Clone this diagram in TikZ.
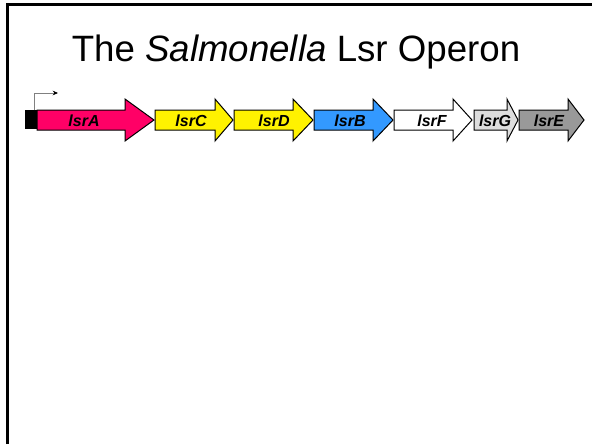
\documentclass[tikz,border=0pt]{standalone}
\usepackage{fontspec}
\setmainfont{Liberation Sans}
\usetikzlibrary{arrows.meta}
\definecolor{lsrAred}{HTML}{FF0066}
\definecolor{lsrBblue}{HTML}{3399FF}
\definecolor{lsrGgrey}{HTML}{DDDDDD}
\definecolor{lsrEgrey}{HTML}{999999}
\begin{document}
\begin{tikzpicture}[x=0.75pt, y=-0.75pt,
  gene/.style={draw=black, line width=0.75pt, line join=miter},
  genename/.style={font=\fontsize{12}{14}\selectfont\bfseries\itshape, inner sep=0pt, anchor=base}]
\useasboundingbox (0,0) rectangle (592,444);
% slide frame
\draw[line width=2pt] (7.5,444) -- (7.5,4.5) -- (592,4.5);
\node[font=\fontsize{27.5}{33}\selectfont, anchor=base] (title) at (296,61) {The \textit{Salmonella} Lsr Operon};
% promoter
\node[fill=black, inner sep=0pt, minimum width=9pt, minimum height=14.25pt, anchor=north west] (prom) at (25,110) {};
\coordinate (tss) at (34,110);
\coordinate (tssbend) at (34,93);
\coordinate (tssend) at (58,93);
\draw[gray, line width=0.75pt, -{Stealth[black, length=4pt, width=3.5pt]}] (tss) -- (tssbend) -- (tssend);
% genes
\draw[gene, fill=lsrAred] (37,110) -- (125,110) -- (125,99) -- (154,120) -- (125,141) -- (125,130) -- (37,130) -- cycle;
\draw[gene, fill=yellow] (155,110) -- (215,110) -- (215,99) -- (233,120) -- (215,141) -- (215,130) -- (155,130) -- cycle;
\draw[gene, fill=yellow] (234,110) -- (293,110) -- (293,99) -- (313,120) -- (293,141) -- (293,130) -- (234,130) -- cycle;
\draw[gene, fill=lsrBblue] (314,110) -- (373,110) -- (373,99) -- (393,120) -- (373,141) -- (373,130) -- (314,130) -- cycle;
\draw[gene, fill=white] (394,110) -- (453,110) -- (453,99) -- (472,120) -- (453,141) -- (453,130) -- (394,130) -- cycle;
\draw[gene, fill=lsrGgrey] (474,110) -- (507,110) -- (507,99) -- (518,120) -- (507,141) -- (507,130) -- (474,130) -- cycle;
\draw[gene, fill=lsrEgrey] (519,110) -- (568,110) -- (568,99) -- (584,120) -- (568,141) -- (568,130) -- (519,130) -- cycle;
% gene names
\node[genename] (lsrA) at (84,126) {lsrA};
\node[genename] (lsrC) at (191,126) {lsrC};
\node[genename] (lsrD) at (274,126) {lsrD};
\node[genename] (lsrB) at (350,126) {lsrB};
\node[genename] (lsrF) at (432,126) {lsrF};
\node[genename] (lsrG) at (495,126) {lsrG};
\node[genename] (lsrE) at (549,126) {lsrE};
\end{tikzpicture}
\end{document}
